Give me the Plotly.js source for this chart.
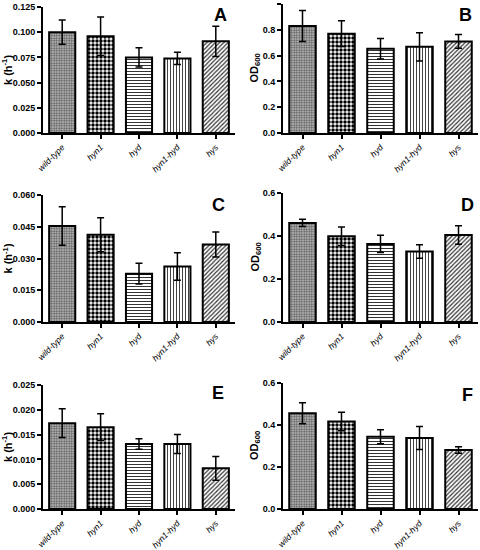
<!DOCTYPE html>
<html>
<head>
<meta charset="utf-8">
<script src="https://cdn.plot.ly/plotly-3.0.1.min.js"></script>
<style>html,body{margin:0;padding:0;background:#fff;}#chart{width:480px;height:550px;}</style>
</head>
<body>
<div id="chart"></div>
<script>
const categories = ["wild-type", "hyn1", "hyd", "hyn1-hyd", "hys"];
const panelLetters = ["A", "B", "C", "D", "E", "F"];

const valuesA = [0.100, 0.096, 0.075, 0.074, 0.091];
const errorsA = [0.012, 0.019, 0.0095, 0.006, 0.015];
const valuesB = [0.83, 0.77, 0.653, 0.668, 0.71];
const errorsB = [0.12, 0.10, 0.08, 0.11, 0.053];
const valuesC = [0.0454, 0.0412, 0.0228, 0.0262, 0.0366];
const errorsC = [0.0091, 0.008, 0.0049, 0.0065, 0.0059];
const valuesD = [0.461, 0.399, 0.363, 0.328, 0.405];
const errorsD = [0.017, 0.043, 0.04, 0.031, 0.043];
const valuesE = [0.0173, 0.0165, 0.0131, 0.0131, 0.0082];
const errorsE = [0.0029, 0.0027, 0.00105, 0.0019, 0.0024];
const valuesF = [0.456, 0.417, 0.344, 0.338, 0.281];
const errorsF = [0.050, 0.044, 0.033, 0.055, 0.016];

const tickValsK1 = [0, 0.025, 0.05, 0.075, 0.1, 0.125];
const tickValsOD1 = [0, 0.2, 0.4, 0.6, 0.8, 1.0];
const tickValsK2 = [0, 0.015, 0.03, 0.045, 0.06];
const tickValsOD2 = [0, 0.2, 0.4, 0.6];
const tickValsK3 = [0, 0.005, 0.01, 0.015, 0.02, 0.025];

// fill pattern style per category
const patterns = [
  {shape: ".", fgcolor: "#5a5a5a", bgcolor: "#c6c6c6", size: 2.5, solidity: 0.5},
  {shape: ".", fgcolor: "#000000", bgcolor: "#ffffff", size: 4, solidity: 0.6},
  {shape: "-", fgcolor: "#333333", bgcolor: "#ffffff", size: 3, solidity: 0.34},
  {shape: "|", fgcolor: "#444444", bgcolor: "#ffffff", size: 3, solidity: 0.34},
  {shape: "/", fgcolor: "#333333", bgcolor: "#ffffff", size: 3, solidity: 0.4}
];

const panels = [
  {v: valuesA, e: errorsA, ticks: tickValsK1, fmt: ".3f", title: "k (h<sup>-1</sup>)"},
  {v: valuesB, e: errorsB, ticks: tickValsOD1, fmt: ".1f", title: "OD<sub>600</sub>"},
  {v: valuesC, e: errorsC, ticks: tickValsK2, fmt: ".3f", title: "k (h<sup>-1</sup>)"},
  {v: valuesD, e: errorsD, ticks: tickValsOD2, fmt: ".1f", title: "OD<sub>600</sub>"},
  {v: valuesE, e: errorsE, ticks: tickValsK3, fmt: ".3f", title: "k (h<sup>-1</sup>)"},
  {v: valuesF, e: errorsF, ticks: tickValsOD2, fmt: ".1f", title: "OD<sub>600</sub>"}
];

// geometry (pixels)
const W = 480, H = 550;
const xPix = [[43, 235], [283, 478]];
const yPix = [[7, 133], [4, 133], [195, 322], [193, 322], [385, 509], [383, 509]];
const letterPos = [[220, 15], [465, 15], [218, 205], [467, 205], [218, 393], [467, 395]];
const titleX = [7, 255];

const FONT = "Liberation Sans, Arial, sans-serif";
const traces = [];
const layout = {
  width: W, height: H,
  margin: {l: 0, r: 0, t: 0, b: 0},
  paper_bgcolor: "#fff", plot_bgcolor: "#fff",
  showlegend: false,
  barmode: "overlay",
  bargap: 0.32,
  font: {family: FONT, color: "#000"},
  annotations: []
};

panels.forEach((p, i) => {
  const col = i % 2;
  const sfx = i === 0 ? "" : String(i + 1);
  categories.forEach((c, k) => {
    const pt = patterns[k];
    traces.push({
      type: "bar",
      name: c,
      x: [c],
      y: [p.v[k]],
      xaxis: "x" + sfx,
      yaxis: "y" + sfx,
      marker: {
        color: pt.bgcolor,
        line: {color: "#000", width: 2},
        pattern: {
          shape: pt.shape, fgcolor: pt.fgcolor, bgcolor: pt.bgcolor,
          size: pt.size, solidity: pt.solidity, fillmode: "replace"
        }
      },
      error_y: {type: "data", array: [p.e[k]], visible: true, color: "#000", thickness: 1.5, width: 3.5}
    });
  });
  const [x0, x1] = xPix[col];
  const [yt, yb] = yPix[i];
  layout["xaxis" + sfx] = {
    domain: [x0 / W, x1 / W],
    anchor: "y" + sfx,
    type: "category",
    categoryarray: categories, categoryorder: "array",
    range: [-0.5, 4.5],
    showline: true, linecolor: "#000", linewidth: 2,
    ticks: "outside", ticklen: 4, tickwidth: 2, tickcolor: "#000",
    tickangle: -45,
    tickfont: {family: FONT, size: 8.5, style: "italic", color: "#000"},
    showgrid: false, zeroline: false, fixedrange: true
  };
  layout["yaxis" + sfx] = {
    domain: [1 - yb / H, 1 - yt / H],
    anchor: "x" + sfx,
    range: [p.ticks[0], p.ticks[p.ticks.length - 1]],
    tickvals: p.ticks,
    tickformat: p.fmt,
    showline: true, linecolor: "#000", linewidth: 2,
    ticks: "outside", ticklen: 4, tickwidth: 2, tickcolor: "#000",
    tickfont: {family: FONT, size: 9, weight: "bold", color: "#000"},
    showgrid: false, zeroline: false, fixedrange: true
  };
  layout.annotations.push({
    xref: "paper", yref: "paper",
    x: titleX[col] / W, y: 1 - (yt + yb) / 2 / H,
    text: p.title, textangle: -90, showarrow: false,
    font: {family: FONT, size: 11, weight: "bold", color: "#000"},
    xanchor: "center", yanchor: "middle"
  });
  layout.annotations.push({
    xref: "paper", yref: "paper",
    x: letterPos[i][0] / W, y: 1 - letterPos[i][1] / H,
    text: panelLetters[i], showarrow: false,
    font: {family: FONT, size: 18, weight: "bold", color: "#000"},
    xanchor: "center", yanchor: "middle"
  });
});

Plotly.newPlot("chart", traces, layout, {staticPlot: true, displayModeBar: false});
</script>
</body>
</html>
